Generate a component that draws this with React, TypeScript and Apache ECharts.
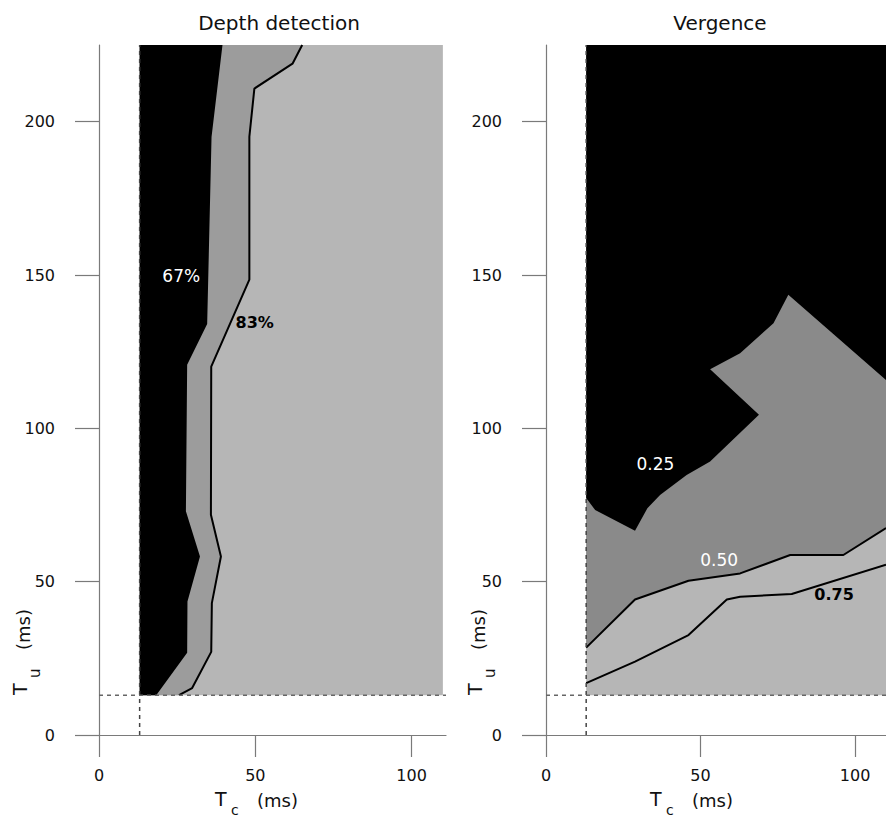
import React, { useEffect, useRef } from "react";
import * as echarts from "echarts";

// ---------- data ----------
const xTicksInterval = 50;
const yTicksInterval = 50;
const thresholdTc = 13; // ms, vertical dashed line
const thresholdTu = 13; // ms, horizontal dashed line
const regionTop = 225;
const leftXMax = 111;
const rightXMax = 110;

// Depth detection: 67% boundary (black | mid grey), top -> bottom
const depth67: number[][] = [
  [39.5, 225], [36, 195], [34.6, 134], [28.2, 120.7], [27.8, 73], [32.3, 58.2],
  [28.3, 43.5], [28.2, 26.8], [18.3, 13],
];
// Depth detection: 83% contour (mid grey | light grey), top -> bottom
const depth83: number[][] = [
  [65, 225], [61.9, 218.9], [49.7, 210.8], [48.1, 195.1], [48.1, 148.5], [35.9, 120.1],
  [35.8, 71.8], [39, 58.2], [36.1, 43], [35.9, 27.1], [29.8, 15.3], [25.6, 13],
];
// Vergence: 0.25 boundary (black | dark grey), from right edge to left edge
const verg25: number[][] = [
  [110, 115.8], [78.4, 143.6], [73.6, 134.3], [62.8, 124.5], [53.1, 119.3], [68.9, 104.4],
  [53.1, 89.2], [45.5, 84.8], [36.9, 78.3], [32.8, 73.9], [28.8, 66.6], [15.9, 73.4], [13, 77.3],
];
// Vergence: 0.50 contour, left -> right
const verg50: number[][] = [
  [13, 28.5], [28.8, 44.2], [46.1, 50.3], [62.8, 52.7], [79, 58.7], [96.2, 58.7], [110, 67.5],
];
// Vergence: 0.75 contour, left -> right
const verg75: number[][] = [
  [13, 16.9], [28.8, 23.9], [46.1, 32.6], [58.5, 44.2], [62.8, 45.1], [79.5, 46], [110, 55.5],
];

const leftLabels = [
  { text: "67%", x: 26.3, y: 149.8, color: "#ffffff", bold: false },
  { text: "83%", x: 49.8, y: 134.6, color: "#000000", bold: true },
];
const rightLabels = [
  { text: "0.25", x: 35.4, y: 88.3, color: "#ffffff", bold: false },
  { text: "0.50", x: 56, y: 57.1, color: "#ffffff", bold: false },
  { text: "0.75", x: 93.2, y: 45.8, color: "#000000", bold: true },
];

// ---------- styling ----------
const FONT = "DejaVu Sans";
const LIGHT = "#b6b6b6";
const MID_LEFT = "#9c9c9c";
const MID_RIGHT = "#8a8a8a";
const AXIS = "#7a7a7a";
const TEXT = "#111111";

function polygonSeries(points: number[][], color: string, axisIdx: number, z: number) {
  return {
    type: "custom",
    xAxisIndex: axisIdx,
    yAxisIndex: axisIdx,
    z,
    silent: true,
    data: [points[0]],
    renderItem: (_params: any, api: any) => ({
      type: "polygon",
      shape: { points: points.map((p) => api.coord(p)) },
      style: { fill: color, stroke: "none" },
    }),
  };
}

function lineSeries(points: number[][], axisIdx: number, z: number, color: string, width: number, dashed: boolean) {
  return {
    type: "line",
    xAxisIndex: axisIdx,
    yAxisIndex: axisIdx,
    z,
    silent: true,
    symbol: "none",
    data: points,
    lineStyle: { color, width, type: dashed ? [4, 4] : "solid" },
  };
}

function labelSeries(labels: typeof leftLabels, axisIdx: number) {
  return {
    type: "scatter",
    xAxisIndex: axisIdx,
    yAxisIndex: axisIdx,
    z: 20,
    silent: true,
    symbolSize: 0,
    itemStyle: { opacity: 1 },
    data: labels.map((l) => ({
      value: [l.x, l.y],
      itemStyle: { opacity: 1 },
      label: {
        show: true,
        position: "inside",
        formatter: l.text,
        color: l.color,
        opacity: 1,
        textBorderWidth: 0,
        fontFamily: FONT,
        fontSize: l.bold ? 16 : 17,
        fontWeight: l.bold ? "bold" : "normal",
      },
    })),
  };
}

function xAxis(gridIndex: number, max: number) {
  return {
    type: "value",
    gridIndex,
    min: 0,
    max,
    interval: xTicksInterval,
    axisLine: { show: true, lineStyle: { color: AXIS, width: 1.2 } },
    axisTick: { show: true, length: 22, lineStyle: { color: AXIS, width: 1.2 } },
    axisLabel: { margin: 32, color: TEXT, fontFamily: FONT, fontSize: 16, showMaxLabel: false },
    splitLine: { show: false },
  };
}

function yAxis(gridIndex: number) {
  return {
    type: "value",
    gridIndex,
    min: 0,
    max: regionTop,
    interval: yTicksInterval,
    axisLine: { show: true, lineStyle: { color: AXIS, width: 1.2 } },
    axisTick: { show: true, length: 24, lineStyle: { color: AXIS, width: 1.2 } },
    axisLabel: { margin: 44, color: TEXT, fontFamily: FONT, fontSize: 16, showMaxLabel: false },
    splitLine: { show: false },
  };
}

function axisNameX(x: number) {
  return [
    { type: "text", x, y: 799, style: { text: "T", fontFamily: FONT, fontSize: 19, fill: TEXT, verticalAlign: "middle" } },
    { type: "text", x: x + 16, y: 810, style: { text: "c", fontFamily: FONT, fontSize: 14, fill: TEXT, verticalAlign: "middle" } },
    { type: "text", x: x + 42, y: 800, style: { text: "(ms)", fontFamily: FONT, fontSize: 18, fill: TEXT, verticalAlign: "middle" } },
  ];
}

function axisNameY(gx: number) {
  return {
    type: "group",
    x: gx,
    y: 695,
    rotation: Math.PI / 2,
    children: [
      { type: "text", x: 0, y: 20, style: { text: "T", fontFamily: FONT, fontSize: 19, fill: TEXT, verticalAlign: "middle" } },
      { type: "text", x: 17, y: 35, style: { text: "u", fontFamily: FONT, fontSize: 15, fill: TEXT, verticalAlign: "middle" } },
      { type: "text", x: 45, y: 23, style: { text: "(ms)", fontFamily: FONT, fontSize: 18, fill: TEXT, verticalAlign: "middle" } },
    ],
  };
}

export default function App() {
  const ref = useRef<HTMLDivElement>(null);

  useEffect(() => {
    if (!ref.current) return;
    const chart = echarts.init(ref.current, null, { renderer: "svg" });

    const leftRect = [[thresholdTc, thresholdTu], [leftXMax - 1, thresholdTu], [leftXMax - 1, regionTop], [thresholdTc, regionTop]];
    const rightRect = [[thresholdTc, thresholdTu], [rightXMax, thresholdTu], [rightXMax, regionTop], [thresholdTc, regionTop]];
    const leftMid = [[thresholdTc, regionTop], ...depth83, [thresholdTc, thresholdTu]];
    const leftBlack = [[thresholdTc, regionTop], ...depth67, [thresholdTc, thresholdTu]];
    const rightMid = [[thresholdTc, regionTop], [rightXMax, regionTop], ...[...verg50].reverse()];
    const rightBlack = [[thresholdTc, regionTop], [rightXMax, regionTop], ...verg25];

    const option: any = {
      animation: false,
      grid: [
        { left: 99, top: 45, width: 347, height: 690 },
        { left: 546, top: 45, width: 340, height: 690 },
      ],
      xAxis: [xAxis(0, leftXMax), xAxis(1, rightXMax)],
      yAxis: [yAxis(0), yAxis(1)],
      series: [
        polygonSeries(leftRect, LIGHT, 0, 1),
        polygonSeries(leftMid, MID_LEFT, 0, 2),
        polygonSeries(leftBlack, "#000000", 0, 3),
        lineSeries(depth83, 0, 5, "#000000", 2, false),
        lineSeries([[thresholdTc, 0], [thresholdTc, regionTop]], 0, 6, "#444444", 1.5, true),
        lineSeries([[0, thresholdTu], [leftXMax, thresholdTu]], 0, 6, "#666666", 1.5, true),
        labelSeries(leftLabels, 0),

        polygonSeries(rightRect, LIGHT, 1, 1),
        polygonSeries(rightMid, MID_RIGHT, 1, 2),
        polygonSeries(rightBlack, "#000000", 1, 3),
        lineSeries(verg50, 1, 5, "#000000", 2, false),
        lineSeries(verg75, 1, 5, "#000000", 2, false),
        lineSeries([[thresholdTc, 0], [thresholdTc, regionTop]], 1, 6, "#444444", 1.5, true),
        lineSeries([[0, thresholdTu], [rightXMax, thresholdTu]], 1, 6, "#666666", 1.5, true),
        labelSeries(rightLabels, 1),
      ],
      graphic: [
        { type: "text", x: 279, y: 23, style: { text: "Depth detection", fontFamily: FONT, fontSize: 20, fill: TEXT, align: "center", verticalAlign: "middle" } },
        { type: "text", x: 720, y: 23, style: { text: "Vergence", fontFamily: FONT, fontSize: 20, fill: TEXT, align: "center", verticalAlign: "middle" } },
        ...axisNameX(215),
        ...axisNameX(650),
        axisNameY(0),
        axisNameY(455),
      ],
    };
    chart.setOption(option);
    return () => chart.dispose();
  }, []);

  return (
    <div
      ref={ref}
      style={{ position: "absolute", left: 0, top: 0, width: 886, height: 820, background: "#ffffff" }}
    />
  );
}
